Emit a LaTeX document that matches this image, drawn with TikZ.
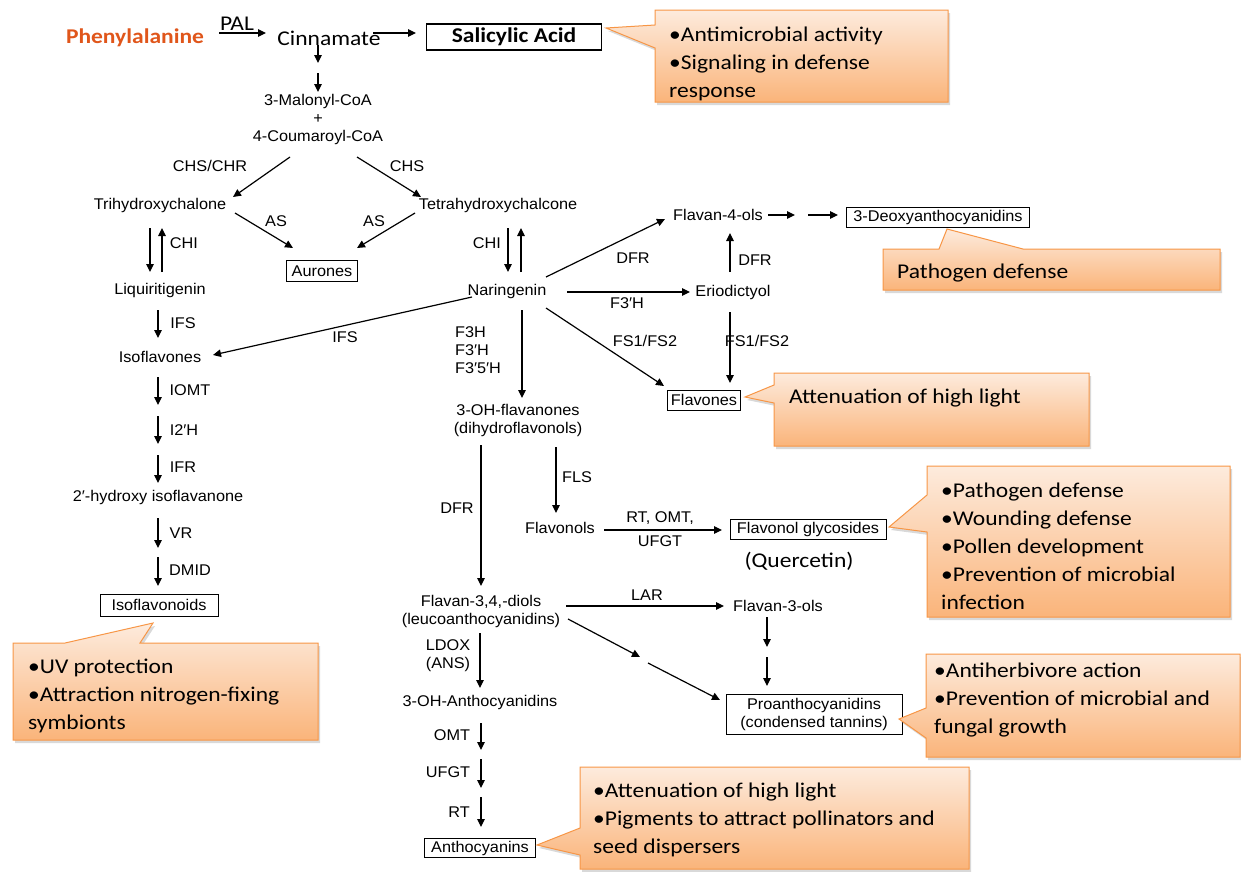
\documentclass[tikz,border=0pt]{standalone}
\usepackage{fontspec}
\setmainfont{Liberation Sans}[FakeStretch=1.05]
\newfontfamily\calibri{Carlito}[FakeStretch=1.12]
\usetikzlibrary{arrows.meta,calc,shadows}
\definecolor{phecol}{RGB}{224,86,27}
\definecolor{calltop}{HTML}{FDEBDD}
\definecolor{callbot}{HTML}{FAB47A}
\definecolor{callline}{HTML}{F79646}
\tikzset{
	comp/.style={font=\fontsize{15.5}{18}\selectfont, inner sep=1pt, align=center},
	enz/.style={font=\fontsize{15.5}{18}\selectfont, inner sep=1pt, align=left},
	prod/.style={comp, draw, line width=0.9pt, minimum height=20pt, inner sep=2pt},
	big/.style={font=\calibri\fontsize{21}{24}\selectfont, inner sep=1pt},
	bigbold/.style={font=\calibri\bfseries\fontsize{21}{24}\selectfont, inner sep=1pt},
	flow/.style={-{Triangle[length=8pt,width=7.5pt]}, line width=1.2pt},
	callout/.style={draw=callline, line width=1pt, top color=calltop, bottom color=callbot,
		drop shadow={shadow xshift=2pt, shadow yshift=-3pt, opacity=0.3}},
	note/.style={font=\calibri\fontsize{21}{28}\selectfont, align=left, anchor=north west, inner sep=0pt}
}

\begin{document}
\begin{tikzpicture}[x=1pt, y=-1pt]
	\useasboundingbox (0,0) rectangle (1241,871);

	% compounds
	\node[bigbold, text=phecol] (phe) at (135,38) {Phenylalanine};
	\node[big] (cin) at (329,38) {Cinnamate};
	\node[bigbold, draw, line width=1.6pt, minimum width=175pt, minimum height=26pt] (sa) at (514,37) {Salicylic Acid};
	\node[comp] (mal) at (318,119) {3-Malonyl-CoA\\+\\4-Coumaroyl-CoA};
	\node[comp] (tri) at (160,205) {Trihydroxychalone};
	\node[comp] (tet) at (498,205) {Tetrahydroxychalcone};
	\node[prod, minimum width=71pt, minimum height=21pt] (aur) at (322,271) {Aurones};
	\node[comp] (liq) at (160,290) {Liquiritigenin};
	\node[comp] (nar) at (507,291) {Naringenin};
	\node[comp] (iso) at (160,357) {Isoflavones};
	\node[comp] (hyd) at (158,497) {2′-hydroxy isoflavanone};
	\node[prod, minimum width=118pt, minimum height=22pt] (isd) at (159,605) {Isoflavonoids};
	\node[comp] (f4o) at (718,215) {Flavan-4-ols};
	\node[prod, minimum width=183pt] (deo) at (938,217) {3-Deoxyanthocyanidins};
	\node[comp] (eri) at (733,292) {Eriodictyol};
	\node[prod, minimum width=73pt] (fla) at (704,400) {Flavones};
	\node[comp] (ohf) at (518,420) {3-OH-flavanones\\(dihydroflavonols)};
	\node[comp] (fol) at (560,528) {Flavonols};
	\node[prod, minimum width=156pt] (fgl) at (808,529) {Flavonol glycosides};
	\node[big] (que) at (799,561) {(Quercetin)};
	\node[comp] (dio) at (481,611) {Flavan-3,4,-diols\\(leucoanthocyanidins)};
	\node[comp] (f3o) at (778,606) {Flavan-3-ols};
	\node[prod, minimum width=176pt, minimum height=40pt] (pro) at (814,714) {Proanthocyanidins\\(condensed tannins)};
	\node[comp] (oha) at (480,702) {3-OH-Anthocyanidins};
	\node[prod, minimum width=111pt, minimum height=19pt] (ant) at (480,848) {Anthocyanins};

	% enzymes
	\node[big] (lpal) at (237,24) {PAL};
	\node[enz] (lchschr) at (210,166) {CHS/CHR};
	\node[enz] (lchs) at (407,166) {CHS};
	\node[enz] (las1) at (276,221) {AS};
	\node[enz] (las2) at (374,221) {AS};
	\node[enz] (lchi1) at (184,243) {CHI};
	\node[enz] (lchi2) at (487,243) {CHI};
	\node[enz] (lifs1) at (183,323) {IFS};
	\node[enz] (lifs2) at (345,337) {IFS};
	\node[enz] (liomt) at (190,390) {IOMT};
	\node[enz] (li2h) at (184,430) {I2′H};
	\node[enz] (lifr) at (183,467) {IFR};
	\node[enz] (lvr) at (181,533) {VR};
	\node[enz] (ldmid) at (190,570) {DMID};
	\node[enz] (ldfr1) at (633,258) {DFR};
	\node[enz] (lf3h) at (627,303) {F3′H};
	\node[enz] (lfs1) at (645,341) {FS1/FS2};
	\node[enz] (lhyd) at (478,350) {F3H\\F3′H\\F3′5′H};
	\node[enz] (ldfr2) at (755,260) {DFR};
	\node[enz] (lfs2) at (757,341) {FS1/FS2};
	\node[enz] (ldfr3) at (457,508) {DFR};
	\node[enz] (lfls) at (577,477) {FLS};
	\node[enz] (lrt1) at (660,518) {RT, OMT,};
	\node[enz] (lufgt1) at (660,541) {UFGT};
	\node[enz] (llar) at (647,595) {LAR};
	\node[enz, align=center] (lldox) at (448,656) {LDOX\\(ANS)};
	\node[enz] (lomt) at (452,735) {OMT};
	\node[enz] (lufgt2) at (448,772) {UFGT};
	\node[enz] (lrt2) at (459,812) {RT};

	% reactions
	\draw[flow] ($(phe)+(84,-5)$) -- ($(cin)+(-63,-5)$);
	\draw[flow] ($(cin)+(44,-5)$) -- ($(sa)+(-98,-4)$);
	\draw[flow] ($(cin)+(-11,7)$) -- ($(cin)+(-11,25)$);
	\draw[flow] ($(mal)+(0,-46)$) -- ($(mal)+(0,-27)$);
	\draw[flow] ($(mal)+(-28,38)$) -- ($(tri)+(73,-8)$);
	\draw[flow] ($(mal)+(39,38)$) -- ($(tet)+(-77,-8)$);
	\draw[flow] ($(tri)+(75,8)$) -- ($(aur)+(-29,-23)$);
	\draw[flow] ($(tet)+(-83,8)$) -- ($(aur)+(35,-23)$);
	\draw[flow] ($(tri)+(-10,23)$) -- ($(liq)+(-10,-18)$);
	\draw[flow] ($(liq)+(2,-18)$) -- ($(tri)+(2,23)$);
	\draw[flow] ($(tet)+(10,23)$) -- ($(nar)+(1,-19)$);
	\draw[flow] ($(nar)+(14,-19)$) -- ($(tet)+(23,23)$);
	\draw[flow] ($(liq)+(-2,20)$) -- ($(iso)+(-2,-19)$);
	\draw[flow] ($(nar)+(-35,6)$) -- ($(iso)+(53,-2)$);
	\draw[flow] ($(iso)+(-2,20)$) -- ($(iso)+(-2,48)$);
	\draw[flow] ($(iso)+(-2,59)$) -- ($(iso)+(-2,87)$);
	\draw[flow] ($(hyd)+(0,-42)$) -- ($(hyd)+(0,-14)$);
	\draw[flow] ($(hyd)+(0,21)$) -- ($(hyd)+(0,51)$);
	\draw[flow] ($(isd)+(-1,-48)$) -- ($(isd)+(-1,-19)$);
	\draw[flow] ($(nar)+(39,-14)$) -- ($(f4o)+(-53,4)$);
	\draw[flow] ($(nar)+(60,1)$) -- ($(eri)+(-43,0)$);
	\draw[flow] ($(nar)+(39,17)$) -- ($(fla)+(-40,-14)$);
	\draw[flow] ($(nar)+(15,19)$) -- ($(ohf)+(4,-22)$);
	\draw[flow] ($(eri)+(-3,-20)$) -- ($(f4o)+(12,18)$);
	\draw[flow] ($(eri)+(-3,20)$) -- ($(fla)+(26,-17)$);
	\draw[flow] ($(f4o)+(50,0)$) -- ($(f4o)+(77,0)$);
	\draw[flow] ($(deo)+(-130,-2)$) -- ($(deo)+(-100,-2)$);
	\draw[flow] ($(ohf)+(-37,25)$) -- ($(dio)+(0,-25)$);
	\draw[flow] ($(ohf)+(38,27)$) -- ($(fol)+(-4,-15)$);
	\draw[flow] ($(fol)+(44,2)$) -- ($(fgl)+(-86,1)$);
	\draw[flow] ($(dio)+(85,-5)$) -- ($(f3o)+(-54,0)$);
	\draw[flow] ($(dio)+(87,8)$) -- ($(dio)+(159,46)$);
	\draw[flow] ($(pro)+(-166,-51)$) -- ($(pro)+(-94,-14)$);
	\draw[flow] ($(f3o)+(-11,11)$) -- ($(f3o)+(-11,41)$);
	\draw[flow] ($(pro)+(-47,-57)$) -- ($(pro)+(-47,-28)$);
	\draw[flow] ($(dio)+(-1,22)$) -- ($(oha)+(0,-14)$);
	\draw[flow] ($(oha)+(1,21)$) -- ($(oha)+(1,48)$);
	\draw[flow] ($(oha)+(1,57)$) -- ($(oha)+(1,86)$);
	\draw[flow] ($(ant)+(1,-51)$) -- ($(ant)+(1,-21)$);

	% callouts
	\path[callout] (655,10) -- (948,10) -- (948,102) -- (655,102) -- (655,48) -- (606,28) -- (655,25) -- cycle;
	\node[note] (n1) at (669,26.5) {•Antimicrobial activity\\•Signaling in defense\\response};
	\path[callout] (883,249) -- (939,249) -- (947,229) -- (1023,249) -- (1220,249) -- (1220,290) -- (883,290) -- cycle;
	\node[note] (n2) at (897,264) {Pathogen defense};
	\path[callout] (774,373) -- (1089,373) -- (1089,446) -- (774,446) -- (774,403) -- (745,397) -- (774,385) -- cycle;
	\node[note] (n3) at (789,389) {Attenuation of high light};
	\path[callout] (927,466) -- (1230,466) -- (1230,617) -- (927,617) -- (927,532) -- (889,527) -- (927,495) -- cycle;
	\node[note] (n4) at (941,482.5) {•Pathogen defense\\•Wounding defense\\•Pollen development\\•Prevention of microbial\\infection};
	\path[callout] (926,654) -- (1240,654) -- (1240,757) -- (926,757) -- (926,738) -- (899,719) -- (926,708) -- cycle;
	\node[note] (n5) at (934,662.5) {•Antiherbivore action\\•Prevention of microbial and\\fungal growth};
	\path[callout] (580,767) -- (969,767) -- (969,869) -- (580,869) -- (580,855) -- (537,845) -- (580,828) -- cycle;
	\node[note] (n6) at (593,782.5) {•Attenuation of high light\\•Pigments to attract pollinators and\\seed dispersers};
	\path[callout] (13,643) -- (65,643) -- (153,623) -- (140,643) -- (318,643) -- (318,740) -- (13,740) -- cycle;
	\node[note] (n7) at (28,658.5) {•UV protection\\•Attraction nitrogen-fixing\\symbionts};
\end{tikzpicture}
\end{document}
